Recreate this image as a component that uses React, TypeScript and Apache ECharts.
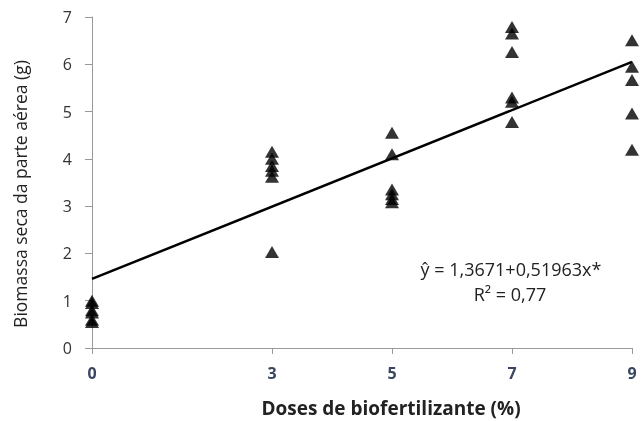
import React, { useEffect, useRef } from "react";
import * as echarts from "echarts";

const xTicks = [0, 3, 5, 7, 9];
const yTicks = [0, 1, 2, 3, 4, 5, 6, 7];
const dose0 = [1.0, 0.95, 0.8, 0.75, 0.6, 0.55];
const dose3 = [4.15, 4.0, 3.85, 3.75, 3.62, 2.03];
const dose5 = [4.55, 4.1, 3.35, 3.25, 3.15, 3.08];
const dose7 = [6.79, 6.65, 6.26, 5.3, 5.21, 4.78];
const dose9 = [6.51, 5.95, 5.67, 4.96, 4.19];
const trendLine: [number, number][] = [
  [0, 1.46],
  [9, 6.05],
];
const equationText = "ŷ = 1,3671+0,51963x*";
const r2Text = "R² = 0,77";
const xTitle = "Doses de biofertilizante (%)";
const yTitle = "Biomassa seca da parte aérea (g)";

const FONT = "'Open Sans', 'Noto Sans', sans-serif";

export default function App() {
  const ref = useRef<HTMLDivElement>(null);
  useEffect(() => {
    if (!ref.current) return;
    const chart = echarts.init(ref.current, undefined, { renderer: "svg" });
    const groups: [number, number[]][] = [
      [0, dose0],
      [3, dose3],
      [5, dose5],
      [7, dose7],
      [9, dose9],
    ];
    const points: [number, number][] = [];
    groups.forEach(([x, vals]) => vals.forEach((v) => points.push([x, v])));
    chart.setOption({
      animation: false,
      grid: { left: 92, right: 9, top: 17, bottom: 73, outerBoundsMode: "none", containLabel: false },
      xAxis: {
        type: "value",
        min: 0,
        max: 9,
        axisLine: { show: true, lineStyle: { color: "#999", width: 1 } },
        axisTick: { show: true, length: 6, lineStyle: { color: "#999" }, customValues: xTicks },
        axisLabel: {
          customValues: xTicks,
          fontFamily: FONT,
          fontSize: 16,
          fontWeight: "bold",
          color: "#3a4560",
          margin: 17,
          hideOverlap: false,
          showMaxLabel: true,
        },
        splitLine: { show: false },
      },
      yAxis: {
        type: "value",
        min: 0,
        max: 7,
        interval: 1,
        axisLine: { show: true, lineStyle: { color: "#999", width: 1 } },
        axisTick: { show: true, length: 7, lineStyle: { color: "#999" } },
        axisLabel: {
          fontFamily: FONT,
          fontSize: 16,
          color: "#333",
          margin: 20,
          formatter: (v: number) => (yTicks.includes(v) ? String(v) : ""),
        },
        splitLine: { show: false },
      },
      series: [
        {
          type: "line",
          data: trendLine,
          symbol: "none",
          lineStyle: { color: "#000", width: 2.5 },
          z: 2,
        },
        {
          type: "scatter",
          data: points,
          symbol: "triangle",
          symbolSize: [14, 12],
          itemStyle: { color: "#000" },
          z: 3,
        },
      ],
      graphic: [
        {
          type: "text",
          x: 511,
          y: 269,
          style: {
            text: equationText,
            fontFamily: FONT,
            fontSize: 18,
            fill: "#222",
            align: "center",
            verticalAlign: "middle",
          },
        },
        {
          type: "text",
          x: 510,
          y: 294,
          style: {
            text: r2Text,
            fontFamily: FONT,
            fontSize: 18,
            fill: "#222",
            align: "center",
            verticalAlign: "middle",
          },
        },
        {
          type: "text",
          x: 391,
          y: 408,
          style: {
            text: xTitle,
            fontFamily: FONT,
            fontSize: 19,
            fontWeight: "bold",
            fill: "#222",
            align: "center",
            verticalAlign: "middle",
          },
        },
        {
          type: "text",
          x: 20,
          y: 194,
          rotation: Math.PI / 2,
          style: {
            text: yTitle,
            fontFamily: FONT,
            fontSize: 17.5,
            fill: "#222",
            align: "center",
            verticalAlign: "middle",
          },
        },
      ],
    });
    return () => chart.dispose();
  }, []);
  return (
    <div
      ref={ref}
      style={{ position: "fixed", left: 0, top: 0, width: 641, height: 421, overflow: "visible" }}
    />
  );
}
